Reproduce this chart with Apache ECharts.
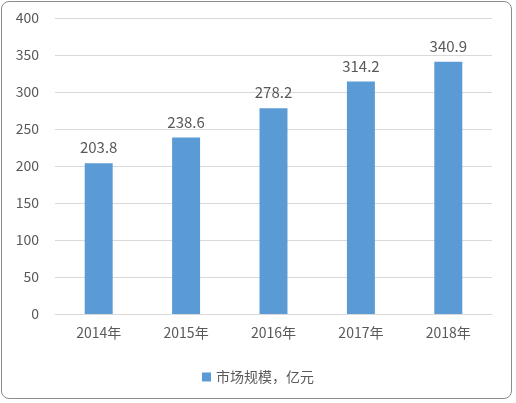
<!DOCTYPE html>
<html>
<head>
<meta charset="utf-8">
<script src="https://cdn.jsdelivr.net/npm/echarts@6/dist/echarts.min.js"></script>
<style>
html,body{margin:0;padding:0;background:#fff;}
#frame{position:absolute;left:1px;top:1px;width:511px;height:398px;border:1px solid #8c8c8c;border-radius:8px;box-sizing:border-box;}
#chart{width:516px;height:403px;}
</style>
</head>
<body>
<div id="frame"></div>
<div id="chart"></div>
<script>
const categories = ['2014年', '2015年', '2016年', '2017年', '2018年']
const marketSize = [203.8, 238.6, 278.2, 314.2, 340.9]
const seriesName = '市场规模，亿元'

const chart = echarts.init(document.getElementById('chart'))
const textColor = '#595959'
chart.setOption({
    animation: false,
    textStyle: { fontFamily: 'Noto Sans CJK SC' },
    grid: { left: 55, right: 24, top: 18, bottom: 89 },
    xAxis: {
        type: 'category',
        data: categories,
        axisTick: { show: false },
        axisLine: { lineStyle: { color: '#d9d9d9' } },
        axisLabel: { color: textColor, fontSize: 14, margin: 12 }
    },
    yAxis: {
        type: 'value',
        min: 0,
        max: 400,
        interval: 50,
        axisLabel: { color: textColor, fontSize: 14, margin: 16 },
        splitLine: { lineStyle: { color: '#d9d9d9' } }
    },
    legend: {
        bottom: 14,
        itemWidth: 9,
        itemHeight: 9,
        icon: 'rect',
        textStyle: { color: textColor, fontSize: 14 },
        data: [seriesName]
    },
    series: [{
        name: seriesName,
        type: 'bar',
        data: marketSize,
        barWidth: '32%',
        itemStyle: { color: '#5b9bd5' },
        label: { show: true, position: 'top', color: textColor, fontSize: 15, distance: 8 }
    }]
})
</script>
</body>
</html>
